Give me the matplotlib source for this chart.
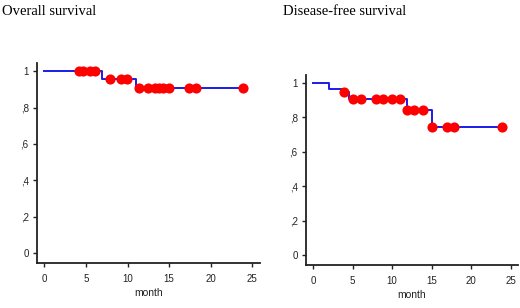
import matplotlib
matplotlib.use("Agg")
import matplotlib.pyplot as plt
import numpy as np

# overall survival: step times and survival after each step
os_times = [0, 6.9, 11.0]
os_surv = [1.0, 0.96, 0.907]
os_end = 23.9
os_censored = [4.2, 4.6, 5.5, 6.1, 7.9, 9.2, 9.9, 11.4, 12.5, 13.3, 13.8,
               14.3, 15.0, 17.4, 18.3, 23.9]

# disease-free survival
dfs_times = [0, 2.0, 3.9, 4.6, 11.9, 15.0]
dfs_surv = [1.0, 0.967, 0.95, 0.909, 0.845, 0.744]
dfs_end = 23.9
dfs_censored = [3.9, 5.0, 6.0, 8.0, 8.9, 10.0, 11.0, 11.9, 12.8, 13.9,
                15.0, 16.9, 17.9, 23.9]

titles = ["Overall survival", "Disease-free survival"]
xticks = [0, 5, 10, 15, 20, 25]
yticks = [0, 0.2, 0.4, 0.6, 0.8, 1.0]
ytick_labels = ["0", ",2", ",4", ",6", ",8", "1"]


def km_panel(ax, times, surv, end, censored):
    t = list(times) + [end]
    s = list(surv) + [surv[-1]]
    ax.step(t, s, where="post", color="#1c1ce6", lw=1.4, zorder=2)
    idx = np.searchsorted(times, censored, side="right") - 1
    cy = np.array(surv)[idx]
    ax.plot(censored, cy, "o", color="#ff0000", ms=7.3, mec="none", zorder=3)
    ax.set_xlim(-0.9, 25.95)
    ax.set_ylim(-0.056, 1.046)
    ax.set_xticks(xticks)
    ax.set_yticks(yticks)
    ax.set_yticklabels(ytick_labels)
    for sp in ["top", "right"]:
        ax.spines[sp].set_visible(False)
    for sp in ["left", "bottom"]:
        ax.spines[sp].set_linewidth(1.3)
        ax.spines[sp].set_color("#222222")
    ax.tick_params(length=3, width=1, labelsize=7, colors="#222222")
    ax.tick_params(axis="x", pad=5)
    ax.tick_params(axis="y", pad=3)
    ax.set_xlabel("month", fontsize=7.5, labelpad=3, color="#222222")


fig = plt.figure(figsize=(5.2, 3.08), dpi=100)
plt.rcParams["font.family"] = ["Liberation Sans", "DejaVu Sans"]

ax1 = fig.add_axes([0.0712, 0.1461, 0.4288, 0.6494])
km_panel(ax1, os_times, os_surv, os_end, os_censored)

ax2 = fig.add_axes([0.5885, 0.1396, 0.4077, 0.6169])
km_panel(ax2, dfs_times, dfs_surv, dfs_end, dfs_censored)

fig.text(0.004, 0.962, titles[0], fontsize=10.5, family="Liberation Serif",
         va="center", ha="left")
fig.text(0.544, 0.962, titles[1], fontsize=10.5, family="Liberation Serif",
         va="center", ha="left")

fig.savefig("out.png", dpi=100)
